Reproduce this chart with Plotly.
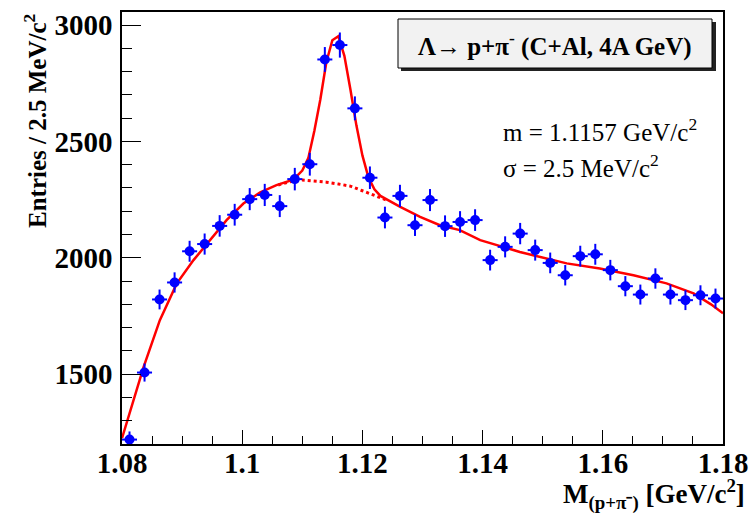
import numpy as np
import plotly.graph_objects as go

# ---- data ----
bin_centers = [1.08125 + 0.0025 * i for i in range(40)]
counts = [1219, 1507, 1821, 1894, 2028, 2059, 2137, 2185, 2252, 2270,
          2222, 2338, 2402, 2852, 2914, 2642, 2344, 2173, 2266, 2140,
          2248, 2136, 2154, 2162, 1990, 2047, 2104, 2033, 1978, 1925,
          2007, 2015, 1947, 1878, 1842, 1911, 1842, 1818, 1839, 1825]
half_bin = [0.00125] * 40

fit_x = [1.0800, 1.0836, 1.0863, 1.0891, 1.0919, 1.0946, 1.0974, 1.1002,
         1.1030, 1.1057, 1.1085, 1.1100, 1.1110, 1.1120, 1.1130, 1.1140,
         1.1150, 1.1160, 1.1170, 1.1180, 1.1190, 1.1200, 1.1210, 1.1220,
         1.1230, 1.1263, 1.1296, 1.1329, 1.1362, 1.1396, 1.1429, 1.1462,
         1.1484, 1.1540, 1.1595, 1.1651, 1.1706, 1.1751, 1.1780, 1.1800]
fit_y = [1225, 1531, 1732, 1889, 1990, 2076, 2162, 2233,
         2281, 2312, 2336, 2375, 2428, 2545, 2680, 2840,
         2935, 2952, 2868, 2724, 2569, 2440, 2346, 2294,
         2266, 2219, 2176, 2140, 2119, 2076, 2050, 2025,
         2011, 1976, 1954, 1925, 1890, 1847, 1800, 1762]

bg_x = [1.1060, 1.1080, 1.1100, 1.1120, 1.1140, 1.1160, 1.1180, 1.1200,
        1.1220, 1.1240]
bg_y = [2313, 2327, 2334, 2330, 2325, 2317, 2308, 2288, 2268, 2248]

x_range = [1.08, 1.18]
y_range = [1200, 3056]
x_ticks = [1.08, 1.10, 1.12, 1.14, 1.16, 1.18]
x_tick_labels = ["1.08", "1.1", "1.12", "1.14", "1.16", "1.18"]
y_ticks = [1500, 2000, 2500, 3000]
y_tick_labels = ["1500", "2000", "2500", "3000"]

errors = list(np.sqrt(counts))

SERIF = "Liberation Serif"

fig = go.Figure()
fig.add_trace(go.Scatter(x=bg_x, y=bg_y, mode="lines",
                         line=dict(color="#ff0000", width=3, dash="dot"),
                         hoverinfo="skip", showlegend=False))
fig.add_trace(go.Scatter(x=fit_x, y=fit_y, mode="lines",
                         line=dict(color="#ff0000", width=2.5),
                         hoverinfo="skip", showlegend=False))
fig.add_trace(go.Scatter(
    x=bin_centers, y=counts, mode="markers",
    marker=dict(color="#0000ff", size=10, line=dict(width=0)),
    error_y=dict(type="data", array=errors, color="#0000ff", thickness=2, width=0),
    error_x=dict(type="data", array=half_bin, color="#0000ff", thickness=2, width=0),
    showlegend=False))

fig.update_layout(
    width=749, height=515,
    margin=dict(l=122, r=26, t=12, b=71, autoexpand=False),
    paper_bgcolor="white", plot_bgcolor="white",
    font=dict(family=SERIF, color="black"),
    xaxis=dict(range=x_range, tickvals=x_ticks, ticktext=x_tick_labels,
               automargin=False,
               ticks="inside", ticklen=14, tickwidth=1, tickcolor="black",
               minor=dict(dtick=0.005, ticks="inside", ticklen=8, tickcolor="black"),
               showline=True, linecolor="black", linewidth=1.5, mirror=True,
               showgrid=False, zeroline=False,
               tickfont=dict(family=SERIF, size=29, color="black", weight="bold"),
               ticklabelstandoff=-8),
    yaxis=dict(range=y_range, tickvals=y_ticks, ticktext=y_tick_labels,
               automargin=False,
               ticks="inside", ticklen=19, tickwidth=1, tickcolor="black",
               minor=dict(dtick=100, ticks="inside", ticklen=10, tickcolor="black"),
               showline=True, linecolor="black", linewidth=1.5, mirror=True,
               showgrid=False, zeroline=False,
               tickfont=dict(family=SERIF, size=29, color="black", weight="bold"),
               ticklabelstandoff=2),
)

def px(xp):
    return (xp - 122) / 601.0

def py(yp):
    return (444 - yp) / 432.0

# title box with shadow
fig.add_shape(type="rect", xref="paper", yref="paper",
              x0=px(401), x1=px(716), y0=py(71), y1=py(22),
              fillcolor="#222222", line=dict(width=0))
fig.add_shape(type="rect", xref="paper", yref="paper",
              x0=px(398), x1=px(712), y0=py(68), y1=py(19),
              fillcolor="#f2f2f2", line=dict(color="black", width=1))

fig.add_annotation(xref="paper", yref="paper", x=px(555), y=py(44),
                   text="<b>Λ→ p+π<sup>-</sup> (C+Al, 4A GeV)</b>",
                   showarrow=False, xanchor="center", yanchor="middle",
                   font=dict(family=SERIF, size=25, color="black"))
fig.add_annotation(xref="paper", yref="paper", x=px(501), y=py(130),
                   text="m = 1.1157 GeV/c<sup>2</sup>",
                   showarrow=False, xanchor="left", yanchor="middle",
                   font=dict(family=SERIF, size=25, color="black"))
fig.add_annotation(xref="paper", yref="paper", x=px(501), y=py(166),
                   text="σ = 2.5 MeV/c<sup>2</sup>",
                   showarrow=False, xanchor="left", yanchor="middle",
                   font=dict(family=SERIF, size=25, color="black"))

# axis titles
fig.add_annotation(xref="paper", yref="paper", x=px(747), y=py(494),
                   text="<b>M<sub>(p+π⁻)</sub> [GeV/c<sup>2</sup>]</b>",
                   showarrow=False, xanchor="right", yanchor="middle",
                   font=dict(family=SERIF, size=27, color="black"))
fig.add_annotation(xref="paper", yref="paper", x=px(35), y=py(12),
                   text="<b>Entries / 2.5 MeV/c<sup>2</sup></b>",
                   textangle=-90, showarrow=False,
                   xanchor="center", yanchor="top",
                   font=dict(family=SERIF, size=25, color="black"))

fig.write_html("out.html",
               config={"displayModeBar": False},
               post_script="document.body.style.margin='0';"
                           "document.body.style.overflow='hidden';")
